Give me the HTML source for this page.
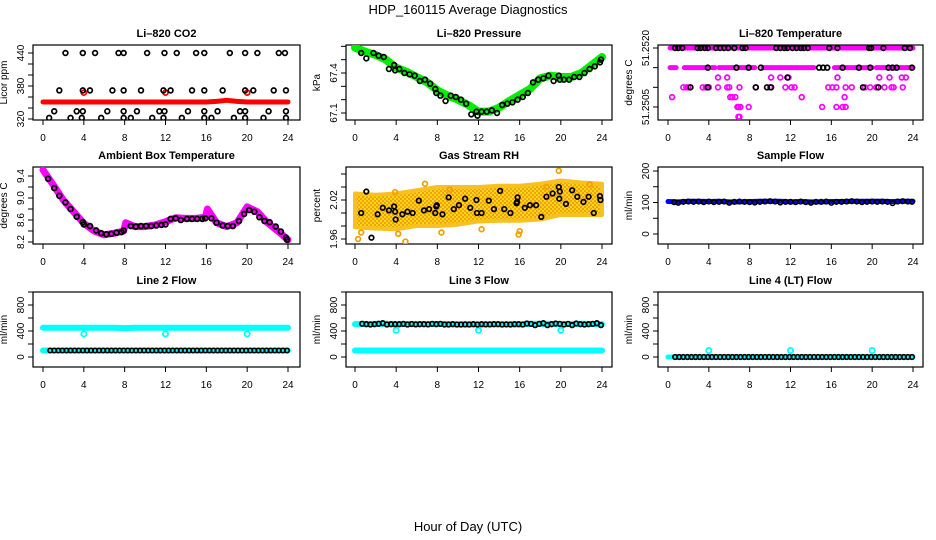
<!DOCTYPE html>
<html><head><meta charset="utf-8"><style>
html,body{margin:0;padding:0;background:#fff}
svg{display:block;font-family:"Liberation Sans",sans-serif}
</style></head><body>
<svg id="c" width="936" height="540" viewBox="0 0 936 540">
<defs>
<pattern id="rhpat" width="4" height="4" patternUnits="userSpaceOnUse">
<rect width="4" height="4" fill="#f0a020"/>
<rect width="2" height="2" fill="#ffd800"/>
<rect x="2" y="2" width="2" height="2" fill="#ffd800"/>
</pattern>
</defs>
<text x="468" y="14" text-anchor="middle" font-size="13">HDP_160115  Average Diagnostics</text>
<text x="468" y="531" text-anchor="middle" font-size="13">Hour of Day (UTC)</text>
</svg>
<script>
// ---------- data ----------
const xTicks = [0,4,8,12,16,20,24];
const hours = [0,1,2,3,4,5,6,7,8,9,10,11,12,13,14,15,16,17,18,19,20,21,22,23,24];

// CO2
const co2Red = [351,351,351,351,351,351,351,351,351,351,351,351,351,351,351,351,351,352,354,352,351,351,351,351,351];
const co2Hi = [2.2,3.9,5.1,7.4,7.9,10.2,11.9,13.1,15.0,15.8,18.3,19.8,21.0,23.1,23.7];
const co2Mid = [1.6,3.9,4.6,6.8,7.9,9.6,11.8,12.5,14.6,15.8,17.6,19.8,20.6,22.6,23.8];
const co2Low = [1.1,3.3,3.9,6.3,7.9,9.2,11.4,11.9,14.2,15.8,17.1,19.3,19.8,22.1,23.8];
const co2Bot = [0.6,2.7,3.8,5.7,7.9,8.6,10.7,11.8,13.6,15.8,16.5,18.7,19.8,21.6,23.8];
const co2RedPts = [4.0,12.0,20.0];

// Pressure
const presBand = [67.59,67.56,67.535,67.5,67.44,67.41,67.37,67.33,67.27,67.23,67.2,67.16,67.11,67.11,67.14,67.19,67.235,67.28,67.36,67.38,67.37,67.37,67.4,67.46,67.52];
const presPtsH = [0.6,1.1,1.8,2.3,2.8,3.3,3.8,3.9,4.3,4.8,5.3,5.8,6.3,6.8,7.3,7.8,7.9,8.3,8.8,9.3,9.8,10.3,10.8,11.3,11.8,11.9,12.3,12.8,13.3,13.8,14.3,14.8,15.3,15.8,16.3,16.8,17.3,17.8,18.3,18.8,19.3,19.8,19.9,20.3,20.8,21.3,21.8,22.3,22.8,23.3,23.8,23.9];
const presPtsV = [67.55,67.51,67.55,67.53,67.52,67.43,67.46,67.42,67.43,67.4,67.39,67.38,67.34,67.35,67.32,67.28,67.25,67.23,67.19,67.23,67.22,67.2,67.17,67.09,67.11,67.08,67.11,67.11,67.12,67.1,67.16,67.17,67.18,67.2,67.22,67.25,67.33,67.35,67.36,67.38,67.34,67.38,67.35,67.35,67.35,67.37,67.37,67.4,67.43,67.45,67.48,67.5];

// Temperature (levels)
const tTopBlack = [0.7,1.0,1.4,2.9,3.2,3.6,3.9,4.7,5.1,5.5,5.9,6.5,7.3,7.6,10.6,11.0,11.4,11.7,12.2,12.6,13.0,13.3,13.7,15.8,16.6,19.7,19.9,21.1,23.2,23.7];
const tL2Black = [3.9,6.7,7.9,9.1,14.8,15.2,15.6,17.1,18.7,19.8,21.6,22.0,22.4,23.9];
const tL2Start = [0.2,1.6,4.3,5.0,7.0,9.3,16.3,16.9,20.4];
const tL2End = [0.8,3.8,4.6,6.5,8.5,14.3,16.7,20.0,24.0];
const tL3Pink = [4.9,5.8,10.1,11.0,11.8,16.6,20.7,21.7,22.9,23.3];
const tL3Black = [11.7];
const tL4Pink = [1.5,1.8,2.0,3.4,3.7,4.0,4.9,5.8,6.0,7.0,8.6,10.0,11.5,12.1,12.4,15.7,16.1,16.5,17.4,18.0,19.3,19.8,20.4,21.2,21.9,22.1,23.0];
const tL4Black = [2.2,3.9,8.6,9.7,10.1,19.1,20.6];
const tL5Pink = [0.4,6.1,6.3,6.6,13.1,17.3];
const tL6Pink = [6.8,6.9,7.1,7.9,15.1,16.5,17.1,17.4];
const tL7Pink = [6.9,7.0];

// Ambient box temperature
const ambH = [0,1,2,3,4,5,6,7,7.9,8.1,9,10,11,12,13,14,15,15.9,16.1,17,18,19,20,21,22,23,24];
const ambV = [9.51,9.24,8.96,8.75,8.54,8.40,8.33,8.36,8.4,8.55,8.48,8.48,8.51,8.57,8.64,8.63,8.63,8.65,8.8,8.55,8.48,8.55,8.84,8.75,8.55,8.4,8.24];
const ambPtH = [0.5,1.1,1.6,2.2,2.7,3.3,3.9,4.0,4.6,5.2,5.7,6.2,6.7,7.2,7.7,7.9,8.6,9.1,9.6,10.1,10.6,11.1,11.6,12.0,12.5,13.0,13.5,14.1,14.6,15.1,15.6,15.9,16.5,17.0,17.6,18.1,18.6,19.2,19.7,20.2,20.7,21.2,21.7,22.2,22.8,23.3,23.8,23.9];
const ambPtV = [9.35,9.18,9.04,8.92,8.80,8.66,8.56,8.52,8.49,8.41,8.36,8.34,8.35,8.37,8.38,8.41,8.49,8.48,8.49,8.49,8.49,8.5,8.51,8.52,8.62,8.63,8.6,8.62,8.62,8.62,8.62,8.63,8.63,8.55,8.5,8.49,8.49,8.58,8.71,8.78,8.75,8.65,8.58,8.56,8.48,8.39,8.28,8.24];

// Gas stream RH
const rhH = [0,2,4,6,8,10,12,14,16,18,20,22,24];
const rhUp = [2.030,2.028,2.030,2.035,2.040,2.040,2.040,2.042,2.042,2.045,2.050,2.047,2.045];
const rhLo = [1.978,1.976,1.975,1.980,1.980,1.982,1.987,1.988,1.988,1.990,1.997,1.997,1.997];
const rhOutH = [0.3,0.6,3.9,4.2,4.9,6.8,8.4,9.2,12.3,15.9,16.0,18.6,19.8,22.8];
const rhOutV = [1.960,1.970,2.032,1.968,1.956,2.045,1.970,2.036,1.975,1.967,1.972,2.040,2.065,2.044];
const rhBlkH = [0.6,1.1,1.6,2.2,2.7,3.3,3.8,3.9,3.95,4.6,5.1,5.6,6.2,6.7,7.2,7.8,7.9,7.95,8.5,9.1,9.6,10.1,10.7,11.2,11.8,11.85,12.3,13.0,13.5,14.1,14.5,15.1,15.7,15.75,15.8,16.5,17.0,17.6,18.1,18.6,19.2,19.8,19.85,19.9,20.5,21.1,21.6,22.2,22.7,23.2,23.8,23.85];
const rhBlkV = [2.000,2.033,1.962,1.998,2.008,2.004,2.010,2.002,1.990,1.998,2.002,2.000,2.019,2.004,2.006,2.000,2.010,2.012,1.998,2.024,2.006,2.012,2.022,2.008,2.020,2.000,2.000,2.019,2.006,2.034,2.006,2.000,2.015,2.017,2.024,2.008,2.012,2.012,1.994,2.025,2.030,2.040,2.022,2.033,2.014,2.035,2.025,2.017,2.025,2.000,2.026,2.020];

// Sample flow
const sfBlue = [103,102,104,104,103,104,102,102,103,104,104,104,102,103,102,102,103,103,104,104,104,104,103,104,104];
const sfPtH = [0.6,1.0,1.5,2.0,2.5,3.0,3.5,4.0,4.5,5.0,5.5,6.0,6.5,7.0,7.5,8.0,8.5,9.0,9.5,10.0,10.5,11.0,11.5,12.0,12.5,13.0,13.5,14.0,14.5,15.0,15.5,16.0,16.5,17.0,17.5,18.0,18.5,19.0,19.5,20.0,20.5,21.0,21.5,22.0,22.5,23.0,23.5,23.9];
const sfPtV = [101,99,102,103,102,103,101,103,101,102,103,99,102,103,102,101,100,102,103,104,103,100,102,102,101,103,101,99,102,102,103,99,102,102,103,104,103,101,102,103,102,103,102,98,103,104,103,102];

// Line flows
const l2Hi = [450,450,450,450,450,450,450,450,445,450,450,450,450,450,450,450,450,450,450,450,450,450,450,450,450];
const l2Lo = [100,100,100,100,100,100,100,100,100,100,100,100,100,100,100,100,100,100,100,100,100,100,100,100,100];
const l2Out = [4,12,20];
const l2OutV = [355,355,355];
const l3Hi = [505,505,510,512,500,508,505,505,508,505,502,503,500,503,503,503,500,510,512,510,505,505,512,508,505];
const l3Lo = [100,100,100,100,100,100,100,100,100,100,100,100,100,100,100,100,100,100,100,100,100,100,100,100,100];
const l3Out = [4,12,20];
const l3OutV = [410,410,410];
const l4Lo = [0,0,0,0,0,0,0,0,0,0,0,0,0,0,0,0,0,0,0,0,0,0,0,0,0];
const l4Out = [4,12,20];
const l4OutV = [100,100,100];
const blkFlowH = [0.7,1.1,1.5,1.9,2.3,2.7,3.1,3.5,3.9,4.3,4.7,5.1,5.5,5.9,6.3,6.7,7.1,7.5,7.9,8.3,8.7,9.1,9.5,9.9,10.3,10.7,11.1,11.5,11.9,12.3,12.7,13.1,13.5,13.9,14.3,14.7,15.1,15.5,15.9,16.3,16.7,17.1,17.5,17.9,18.3,18.7,19.1,19.5,19.9,20.3,20.7,21.1,21.5,21.9,22.3,22.7,23.1,23.5,23.9];
const l3BlkV = [512,505,500,505,512,520,500,505,505,505,510,500,508,502,505,505,502,510,505,510,500,500,505,500,500,502,500,505,500,505,502,502,505,505,500,502,500,505,505,500,515,510,490,510,520,490,505,515,510,500,510,490,515,505,500,505,510,520,490];

// ---------- drawing ----------
const svg = document.getElementById('c');
const NS = 'http://www.w3.org/2000/svg';
function mk(tag, attrs, parent){
  const e = document.createElementNS(NS, tag);
  for (const k in attrs) e.setAttribute(k, attrs[k]);
  (parent||svg).appendChild(e);
  return e;
}
function panel(cfg){
  const g = mk('g', {});
  
  
  const xs = h => cfg.x0 + (cfg.x24 - cfg.x0) * h / 24;
  const ys = v => cfg.py1 + (v - cfg.v1) * (cfg.py2 - cfg.py1) / (cfg.v2 - cfg.v1);
  const t = mk('text', {x:(cfg.bx1+cfg.bx2)/2, y:cfg.by1-8, 'text-anchor':'middle','font-size':11,'font-weight':'bold'}, g);
  t.textContent = cfg.title;
  
  
  const fr = mk('rect', {x:cfg.bx1, y:cfg.by1, width:cfg.bx2-cfg.bx1, height:cfg.by2-cfg.by1, fill:'none', stroke:'#000','stroke-width':1.2}, g);
  
  
  const xa = mk('g', {}, g);
  
  
  xTicks.forEach(h => {
    mk('line', {x1:xs(h), x2:xs(h), y1:cfg.by2, y2:cfg.by2+5, stroke:'#000'}, xa);
    const l = mk('text', {x:xs(h), y:cfg.by2+21, 'text-anchor':'middle','font-size':10}, xa);
    l.textContent = h;
  });
  const ya = mk('g', {}, g);
  
  
  cfg.yt.forEach(v => mk('line', {x1:cfg.bx1-5, x2:cfg.bx1, y1:ys(v), y2:ys(v), stroke:'#000'}, ya));
  cfg.yl.forEach((v, i) => {
    const yy = ys(v), xx = cfg.bx1 - 9;
    const l = mk('text', {x:xx, y:yy, 'text-anchor':'middle','font-size':10, transform:`rotate(-90 ${xx} ${yy})`}, ya);
    l.textContent = cfg.ylt ? cfg.ylt[i] : v;
  });
  const yt = cfg.bx1 - 26, ym = (cfg.by1+cfg.by2)/2;
  const ttl = mk('text', {x:yt, y:ym, 'text-anchor':'middle','font-size':10, transform:`rotate(-90 ${yt} ${ym})`}, g);
  ttl.textContent = cfg.ylab;
  
  
  const clip = 'cl' + Math.round(cfg.bx1) + Math.round(cfg.by1);
  const cp = mk('clipPath', {id:clip}, g);
  mk('rect', {x:cfg.bx1, y:cfg.by1, width:cfg.bx2-cfg.bx1, height:cfg.by2-cfg.by1}, cp);
  const plot = mk('g', {'clip-path':`url(#${clip})`}, g);
  return {xs, ys, g:plot};
}
function band(p, hs, vs, color, w, name){
  const pts = hs.map((h,i) => p.xs(h)+','+p.ys(vs[i])).join(' ');
  const e = mk('polyline', {points:pts, fill:'none', stroke:color, 'stroke-width':w, 'stroke-linecap':'round','stroke-linejoin':'round'}, p.g);
  
  
}
function pts(p, hs, vs, color, r, sw, name){
  const grp = mk('g', {}, p.g);
  
  
  hs.forEach((h,i) => {
    const v = Array.isArray(vs) ? vs[i] : vs;
    mk('circle', {cx:p.xs(h), cy:p.ys(v), r:r, fill:'none', stroke:color, 'stroke-width':sw}, grp);
  });
}
const C1 = {bx1:33,bx2:300,x0:43,x24:288}, C2 = {bx1:346,bx2:612,x0:355,x24:602}, C3 = {bx1:658,bx2:923,x0:668,x24:913};
const R1 = {by1:45,by2:120}, R2 = {by1:167,by2:244}, R3 = {by1:292,by2:367};

// CO2
let p = panel(Object.assign({name:'panel-co2', title:'Li\u2013820 CO2', ylab:'Licor ppm', v1:440,py1:53,v2:320,py2:119, yt:[320,340,360,380,400,420,440], yl:[320,380,440]}, C1, R1));
band(p, hours, co2Red, '#ff0000', 5, 'co2-series-red');
pts(p, co2RedPts, 368, '#ff0000', 2.5, 1.8, 'co2-red-points');
pts(p, co2Hi, 440, '#000', 2.4, 1.7, 'co2-black-points-high');
pts(p, co2Mid, 372, '#000', 2.4, 1.7, 'co2-black-points-mid');
pts(p, co2Low, 334, '#000', 2.4, 1.7, 'co2-black-points-low');
pts(p, co2Bot, 322, '#000', 2.4, 1.7, 'co2-black-points-bottom');

// Pressure
p = panel(Object.assign({name:'panel-pressure', title:'Li\u2013820 Pressure', ylab:'kPa', v1:67.4,py1:73,v2:67.1,py2:113, yt:[67.1,67.2,67.3,67.4,67.5,67.6], yl:[67.1,67.4]}, C2, R1));
band(p, hours, presBand, '#00ee00', 8, 'pressure-series-green');
pts(p, presPtsH, presPtsV, '#000', 2.4, 1.7, 'pressure-black-points');

// Temperature
p = panel(Object.assign({name:'panel-li820-temperature', title:'Li\u2013820 Temperature', ylab:'degrees C', v1:51.2520,py1:48,v2:51.2505,py2:107, yt:[51.2505,51.2510,51.2515,51.2520], yl:[51.2505,51.2520], ylt:['51.2505','51.2520']}, C3, R1));
band(p, [0.2,24], [51.2520,51.2520], '#ff00ff', 5, 'temperature-top-band');
tL2Start.forEach((s,i) => band(p, [s, tL2End[i]], [51.2515,51.2515], '#ff00ff', 5, 'temperature-level2-band'));
pts(p, tL3Pink, 51.25125, '#ff00ff', 2.4, 1.7, 'temperature-pink-points');
pts(p, tL4Pink, 51.2510, '#ff00ff', 2.4, 1.7, 'temperature-pink-points');
pts(p, tL5Pink, 51.25075, '#ff00ff', 2.4, 1.7, 'temperature-pink-points');
pts(p, tL6Pink, 51.2505, '#ff00ff', 2.4, 1.7, 'temperature-pink-points');
pts(p, tL7Pink, 51.25025, '#ff00ff', 2.4, 1.7, 'temperature-pink-points');
pts(p, tTopBlack, 51.2520, '#000', 2.4, 1.7, 'temperature-black-points');
pts(p, tL2Black, 51.2515, '#000', 2.4, 1.7, 'temperature-black-points');
pts(p, tL3Black, 51.25125, '#000', 2.4, 1.7, 'temperature-black-points');
pts(p, tL4Black, 51.2510, '#000', 2.4, 1.7, 'temperature-black-points');

// Ambient
p = panel(Object.assign({name:'panel-ambient-temperature', title:'Ambient Box Temperature', ylab:'degrees C', v1:9.4,py1:176,v2:8.2,py2:242, yt:[8.2,8.4,8.6,8.8,9.0,9.2,9.4], yl:[8.2,8.6,9.0,9.4], ylt:['8.2','8.6','9.0','9.4']}, C1, R2));
band(p, ambH, ambV, '#ff00ff', 7, 'ambient-series-magenta');
pts(p, ambPtH, ambPtV, '#000', 2.4, 1.8, 'ambient-black-points');

// RH
p = panel(Object.assign({name:'panel-gas-rh', title:'Gas Stream RH', ylab:'percent', v1:2.02,py1:200,v2:1.96,py2:239, yt:[1.96,1.98,2.00,2.02,2.04,2.06], yl:[1.96,2.02], ylt:['1.96','2.02']}, C2, R2));
{
  const poly = rhH.map((h,i)=>p.xs(h)+','+p.ys(rhUp[i])).concat(rhH.slice().reverse().map((h,j)=>{const i=rhH.length-1-j;return p.xs(h)+','+p.ys(rhLo[i]);})).join(' ');
  const e = mk('polygon', {points:poly, fill:'url(#rhpat)', stroke:'#f8c020', 'stroke-width':4, 'stroke-linejoin':'round'}, p.g);
  
  
}
pts(p, rhOutH, rhOutV, '#f0a000', 2.4, 1.7, 'rh-outlier-points');
pts(p, rhBlkH, rhBlkV, '#000', 2.3, 1.7, 'rh-black-points');

// Sample flow
p = panel(Object.assign({name:'panel-sample-flow', title:'Sample Flow', ylab:'ml/min', v1:200,py1:171,v2:0,py2:234, yt:[0,50,100,150,200], yl:[0,100,200]}, C3, R2));
band(p, hours, sfBlue, '#0000ff', 5, 'sample-flow-blue');
pts(p, sfPtH, sfPtV, '#000', 2.3, 1.6, 'sample-flow-black-points');

const flowAx = {v1:400,py1:331,v2:0,py2:357, yt:[0,200,400,600,800,1000], yl:[0,400,800], ylab:'ml/min'};
// Line 2
p = panel(Object.assign({name:'panel-line2-flow', title:'Line 2 Flow'}, flowAx, C1, R3));
band(p, hours, l2Hi, '#00ffff', 6, 'line2-cyan-high');
band(p, hours, l2Lo, '#00ffff', 6, 'line2-cyan-low');
pts(p, l2Out, l2OutV, '#00ffff', 2.6, 1.8, 'line2-outliers');
pts(p, blkFlowH, 100, '#000', 2.2, 1.7, 'line2-black-points');
// Line 3
p = panel(Object.assign({name:'panel-line3-flow', title:'Line 3 Flow'}, flowAx, C2, R3));
band(p, hours, l3Hi, '#00ffff', 6, 'line3-cyan-high');
band(p, hours, l3Lo, '#00ffff', 6, 'line3-cyan-low');
pts(p, l3Out, l3OutV, '#00ffff', 2.6, 1.8, 'line3-outliers');
pts(p, blkFlowH, l3BlkV, '#000', 2.3, 1.7, 'line3-black-points');
// Line 4
p = panel(Object.assign({name:'panel-line4-flow', title:'Line 4 (LT) Flow'}, flowAx, C3, R3));
band(p, hours, l4Lo, '#00ffff', 5, 'line4-cyan');
pts(p, l4Out, l4OutV, '#00ffff', 2.6, 1.8, 'line4-outliers');
pts(p, blkFlowH, 0, '#000', 2.3, 1.7, 'line4-black-points');
</script>
</body></html>
